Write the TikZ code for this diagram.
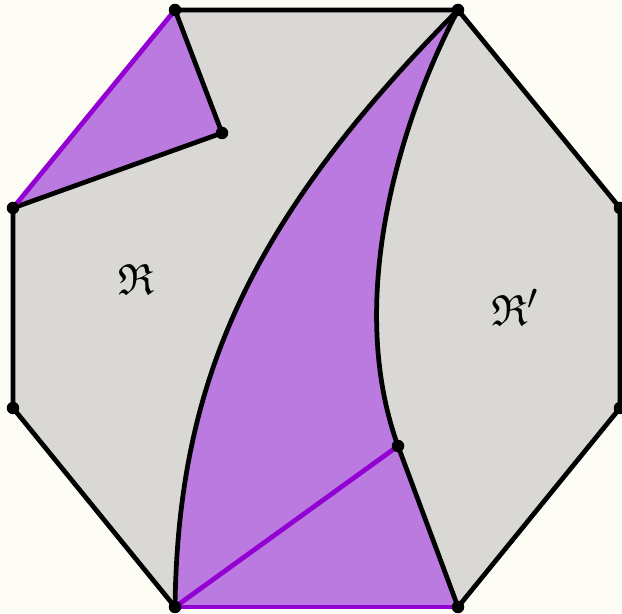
\documentclass[tikz,border=0pt]{standalone}
\usepackage{amsmath,amssymb}
\usepackage{tikz}
\usetikzlibrary{calc}
\definecolor{bgivory}{RGB}{253,253,245}
\definecolor{tilegray}{RGB}{217,216,212}
\definecolor{lilac}{RGB}{186,122,224}
\definecolor{violetline}{RGB}{146,0,210}
\tikzset{
  tile/.style={fill=tilegray},
  shade/.style={fill=lilac},
  edge/.style={draw=black, line width=2.7pt, line cap=round, line join=round},
  vedge/.style={draw=violetline, line width=2.7pt, line cap=round},
  vtx/.style={circle, fill=black, inner sep=0pt, minimum size=2.5mm},
  lbl/.style={font=\Huge},
}

\begin{document}
\begin{tikzpicture}[x=0.02cm, y=-0.02cm]

  \fill[bgivory] (0,0) rectangle (622,614);
  \useasboundingbox (0,0) rectangle (622,614);

  % octagon corners
  \coordinate (A) at (175,10);
  \coordinate (B) at (458,10);
  \coordinate (C) at (620,208);
  \coordinate (D) at (620,408);
  \coordinate (E) at (458,607);
  \coordinate (F) at (175,607);
  \coordinate (G) at (13,408);
  \coordinate (H) at (13,208);
  % inner points
  \coordinate (P) at (222,133);
  \coordinate (Q) at (398,446);

  \path[tile] (A) -- (B) -- (C) -- (D) -- (E) -- (F) -- (G) -- (H) -- cycle;

  \path[shade] (H) -- (A) -- (P) -- cycle;
  \path[shade] (F) .. controls (178,380) and (250,220) .. (B)
               .. controls (400,120) and (345,300) .. (Q) -- (E) -- cycle;

  \draw[edge] (A) -- (B) -- (C) -- (D) -- (E);
  \draw[edge] (F) -- (G) -- (H);
  \draw[edge] (H) -- (P) -- (A);
  \draw[edge] (F) .. controls (178,380) and (250,220) .. (B);
  \draw[edge] (B) .. controls (400,120) and (345,300) .. (Q) -- (E);

  \draw[vedge] (H) -- (A);
  \draw[vedge] (F) -- (E);
  \draw[vedge] (F) -- (Q);

  \foreach \p in {A,B,C,D,E,F,G,H,P,Q}
    \node[vtx] at (\p) {};

  \node[lbl] (R) at (136,279) {$\mathfrak{R}$};
  \node[lbl] (Rp) at (515,307) {$\mathfrak{R}'$};

\end{tikzpicture}
\end{document}
